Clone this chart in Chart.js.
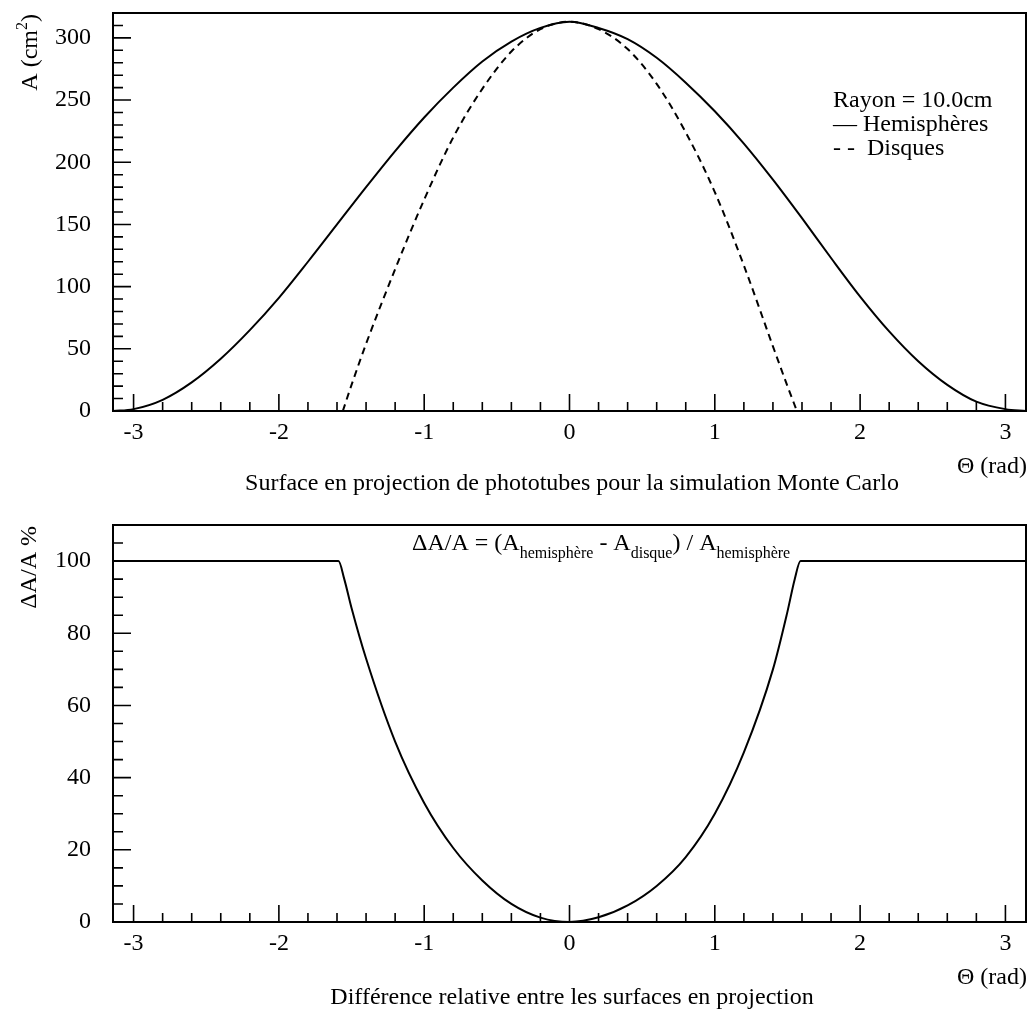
<!DOCTYPE html>
<html>
<head>
<meta charset="utf-8">
<script src="https://cdn.jsdelivr.net/npm/chart.js@4.4.1/dist/chart.umd.min.js"></script>
<style>
  html, body { margin: 0; padding: 0; background: #fff; }
  #wrap { position: relative; width: 1029px; height: 1015px; background: #fff; }
  #wrap canvas { position: absolute; left: 0; }
</style>
</head>
<body>
<div id="wrap">
  <canvas id="topChart" width="1029" height="505" style="top:0"></canvas>
  <canvas id="bottomChart" width="1029" height="510" style="top:505px"></canvas>
</div>
<script>
// ---- Projected surface of a phototube (cm²) versus angle Θ (rad) ----
const thetaHemi = [-3.1416, -3.0, -2.8, -2.6, -2.4, -2.2, -2.0, -1.8, -1.6, -1.4, -1.2, -1.0, -0.8, -0.6, -0.4, -0.2, 0,
                   0.2, 0.4, 0.6, 0.8, 1.0, 1.2, 1.4, 1.6, 1.8, 2.0, 2.2, 2.4, 2.6, 2.8, 3.0, 3.1416];
const areaHemi  = [0, 1.5, 9, 23, 42, 65, 91, 120, 150, 180, 209, 236, 260, 281, 297, 308, 313,
                   308, 299, 284, 264, 241, 215, 186, 155, 123, 92, 64, 40, 21, 7.5, 1.5, 0];

const thetaDisk = [-1.56, -1.5, -1.4, -1.2, -1.0, -0.8, -0.6, -0.4, -0.2, 0,
                   0.2, 0.4, 0.6, 0.8, 1.0, 1.2, 1.4, 1.5, 1.565];
const areaDisk  = [0, 21, 54, 114, 170, 220, 259, 289, 307, 313,
                   307, 291, 263, 224, 176, 117, 52, 20, 0];

// ---- Relative difference ΔA/A (%) ----
const thetaDiff = [-3.1416, -1.59, -1.55, -1.5, -1.4, -1.2, -1.0, -0.8, -0.6, -0.4, -0.2, 0,
                   0.2, 0.4, 0.6, 0.8, 1.0, 1.2, 1.4, 1.5, 1.55, 1.59, 3.1416];
const diffPct   = [100, 100, 95, 87, 73, 50, 33, 20.5, 11.5, 5, 1.2, 0,
                   1.3, 4.6, 10, 18, 30, 47, 70, 86, 95, 100, 100];

// ---- Tick labels ----
const thetaTicks     = [-3, -2, -1, 0, 1, 2, 3];
const areaTicks      = [0, 50, 100, 150, 200, 250, 300];
const diffTicks      = [0, 20, 40, 60, 80, 100];

const SERIF = '"Liberation Serif", "Times New Roman", Times, serif';
const INK = '#000';

// draws a run of text pieces (normal / sub / sup) starting at x on baseline y
function richWidth(ctx, parts) {
  let w = 0;
  for (const p of parts) { ctx.font = p.size + 'px ' + SERIF; w += ctx.measureText(p.t).width; }
  return w;
}
function drawRich(ctx, parts, x, y) {
  let cx = x;
  ctx.textBaseline = 'alphabetic';
  ctx.textAlign = 'left';
  for (const p of parts) {
    ctx.font = p.size + 'px ' + SERIF;
    ctx.fillText(p.t, cx, y + (p.dy || 0));
    cx += ctx.measureText(p.t).width;
  }
}

// frame and inward tick marks drawn from the chart's own scales
const frameTicks = {
  id: 'frameTicks',
  afterDatasetsDraw(chart, args, opts) {
    const { ctx, chartArea: a } = chart;
    const xs = chart.scales.x, ys = chart.scales.y;
    ctx.save();
    ctx.strokeStyle = INK;
    ctx.lineWidth = 1.6;
    ctx.beginPath();
    // x axis ticks: majors on integers, minors every 0.2
    for (let i = -3; i <= 3; i++) {
      for (let k = 0; k < 5; k++) {
        const v = i + k * 0.2;
        if (v > xs.max + 1e-9 || v < xs.min) continue;
        const px = xs.getPixelForValue(v);
        const len = k === 0 ? 17 : 9;
        ctx.moveTo(px, a.bottom);
        ctx.lineTo(px, a.bottom - len);
      }
    }
    // y axis ticks
    for (let v = 0; v <= ys.max + 1e-9; v += opts.yMinor) {
      const py = ys.getPixelForValue(v);
      const major = Math.abs(v / opts.yMajor - Math.round(v / opts.yMajor)) < 1e-6;
      ctx.moveTo(a.left, py);
      ctx.lineTo(a.left + (major ? 18 : 10), py);
    }
    ctx.stroke();
    ctx.lineWidth = 2;
    ctx.strokeRect(a.left, a.top, a.right - a.left, a.bottom - a.top);
    ctx.restore();
  }
};

// captions, axis titles, legend and formula
const texts = {
  id: 'texts',
  afterDraw(chart, args, opts) {
    const { ctx, chartArea: a } = chart;
    ctx.save();
    ctx.fillStyle = INK;
    // x title, right aligned on the frame
    ctx.font = '24px ' + SERIF;
    ctx.textAlign = 'right';
    ctx.textBaseline = 'alphabetic';
    ctx.fillText('\u0398 (rad)', a.right + 1, a.bottom + 62);
    // caption under the panel
    ctx.textAlign = 'center';
    ctx.fillText(opts.caption, 572, a.bottom + opts.captionGap);
    // rotated y title, ending at the top of the frame
    const w = richWidth(ctx, opts.yTitle);
    ctx.translate(opts.yTitleX, a.top + 1 + w);
    ctx.rotate(-Math.PI / 2);
    drawRich(ctx, opts.yTitle, 0, 0);
    ctx.restore();

    ctx.save();
    ctx.fillStyle = INK;
    (opts.extra || []).forEach(line => drawRich(ctx, line.parts, line.x, line.y));
    ctx.restore();
  }
};

function axisOptions(yMax, yTicks) {
  return {
    x: {
      type: 'linear', min: -3.1416, max: 3.1416,
      afterBuildTicks: s => { s.ticks = thetaTicks.map(v => ({ value: v })); },
      afterFit: s => { s.height = 40; s.paddingLeft = 0; s.paddingRight = 0; },
      grid: { display: false, drawTicks: false },
      border: { display: false },
      ticks: { color: INK, font: { family: SERIF, size: 24 }, padding: 7, maxRotation: 0, autoSkip: false }
    },
    y: {
      type: 'linear', min: 0, max: yMax,
      afterBuildTicks: s => { s.ticks = yTicks.map(v => ({ value: v })); },
      afterFit: s => { s.width = 113; s.paddingTop = 0; s.paddingBottom = 0; },
      grid: { display: false, drawTicks: false },
      border: { display: false },
      ticks: { color: INK, font: { family: SERIF, size: 24 }, padding: 22, autoSkip: false }
    }
  };
}

const lineBase = { borderColor: INK, borderWidth: 2, pointRadius: 0, fill: false,
                   cubicInterpolationMode: 'monotone' };

new Chart(document.getElementById('topChart'), {
  type: 'line',
  data: {
    datasets: [
      Object.assign({ label: 'Hemisphères', data: thetaHemi.map((t, i) => ({ x: t, y: areaHemi[i] })) }, lineBase),
      Object.assign({ label: 'Disques', borderDash: [7, 5], data: thetaDisk.map((t, i) => ({ x: t, y: areaDisk[i] })) }, lineBase)
    ]
  },
  options: {
    responsive: false, animation: false, devicePixelRatio: 1,
    layout: { padding: { left: 0, right: 3, top: 13, bottom: 54 } },
    scales: axisOptions(320, areaTicks),
    plugins: {
      legend: { display: false }, tooltip: { enabled: false },
      frameTicks: { yMajor: 50, yMinor: 10 },
      texts: {
        caption: 'Surface en projection de phototubes pour la simulation Monte Carlo',
        captionGap: 79,
        yTitleX: 37,
        yTitle: [{ t: 'A (cm', size: 24 }, { t: '2', size: 16, dy: -10 }, { t: ')', size: 24 }],
        extra: [
          { x: 833, y: 107, parts: [{ t: 'Rayon = 10.0cm', size: 24 }] },
          { x: 833, y: 131, parts: [{ t: '\u2014 Hemisphères', size: 24 }] },
          { x: 833, y: 155, parts: [{ t: '- -  Disques', size: 24 }] }
        ]
      }
    }
  },
  plugins: [frameTicks, texts]
});

new Chart(document.getElementById('bottomChart'), {
  type: 'line',
  data: {
    datasets: [
      Object.assign({ label: '\u0394A/A', data: thetaDiff.map((t, i) => ({ x: t, y: diffPct[i] })) }, lineBase)
    ]
  },
  options: {
    responsive: false, animation: false, devicePixelRatio: 1,
    layout: { padding: { left: 0, right: 3, top: 20, bottom: 53 } },
    scales: axisOptions(110, diffTicks),
    plugins: {
      legend: { display: false }, tooltip: { enabled: false },
      frameTicks: { yMajor: 20, yMinor: 5 },
      texts: {
        caption: 'Différence relative entre les surfaces en projection',
        captionGap: 82,
        yTitleX: 36,
        yTitle: [{ t: '\u0394A/A %', size: 24 }],
        extra: [
          { x: 412, y: 45, parts: [
            { t: '\u0394A/A = (A', size: 24 }, { t: 'hemisphère', size: 16, dy: 8 },
            { t: ' - A', size: 24 }, { t: 'disque', size: 16, dy: 8 },
            { t: ') / A', size: 24 }, { t: 'hemisphère', size: 16, dy: 8 }
          ] }
        ]
      }
    }
  },
  plugins: [frameTicks, texts]
});
</script>
</body>
</html>
